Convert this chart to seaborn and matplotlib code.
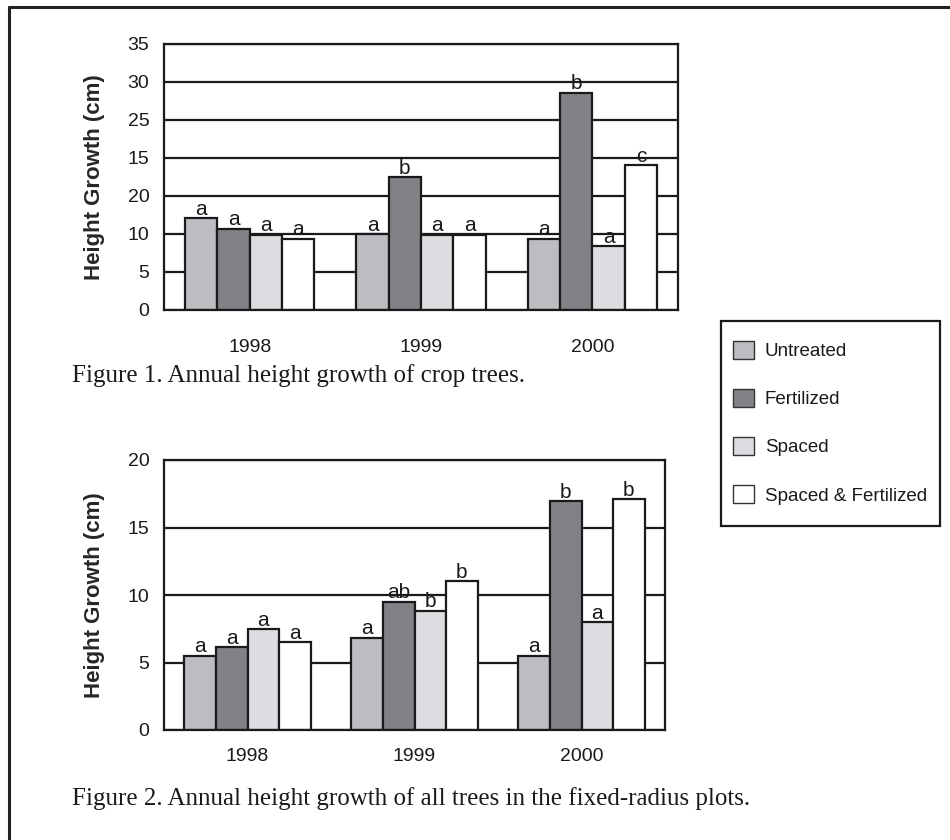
import numpy as np
import pandas as pd
import seaborn as sns
import matplotlib.pyplot as plt
from matplotlib.patches import Patch, Rectangle
from matplotlib.lines import Line2D

years = ['1998', '1999', '2000']
treatments = ['Untreated', 'Fertilized', 'Spaced', 'Spaced & Fertilized']
colors = ['#bcbdc1', '#818286', '#dcdde0', '#ffffff']

# Figure 1 - crop trees (values read against the linear grid)
crop_untreated = [12.1, 10.0, 9.4]
crop_fertilized = [10.7, 17.5, 28.6]
crop_spaced = [9.9, 9.9, 8.4]
crop_spaced_fert = [9.4, 9.9, 19.1]
crop_letters = [['a', 'a', 'a'], ['a', 'b', 'b'], ['a', 'a', 'a'], ['a', 'a', 'c']]
crop_yticks = [0, 5, 10, 15, 20, 25, 30, 35]
crop_yticklabels = ['0', '5', '10', '20', '15', '25', '30', '35']

# Figure 2 - all trees in fixed-radius plots
all_untreated = [5.5, 6.85, 5.5]
all_fertilized = [6.15, 9.5, 16.95]
all_spaced = [7.45, 8.85, 8.0]
all_spaced_fert = [6.5, 11.05, 17.1]
all_letters = [['a', 'a', 'a'], ['a', 'ab', 'b'], ['a', 'b', 'a'], ['a', 'b', 'b']]
all_yticks = [0, 5, 10, 15, 20]
all_yticklabels = ['0', '5', '10', '15', '20']

W, H = 950, 840


def make_df(*series):
    rows = []
    for t, vals in zip(treatments, series):
        for y, v in zip(years, vals):
            rows.append({'year': y, 'treatment': t, 'growth': v})
    return pd.DataFrame(rows)


def draw_panel(ax, df, letters, yticks, yticklabels, label_pad, width_px):
    sns.barplot(data=df, x='year', y='growth', hue='treatment', order=years,
                hue_order=treatments, palette=colors, edgecolor='#1a1a1a',
                linewidth=1.6, width=0.755, gap=0, errorbar=None, legend=False,
                saturation=1, ax=ax)
    for cont, lets in zip(ax.containers, letters):
        for bar, txt in zip(cont, lets):
            ax.annotate(txt, (bar.get_x() + bar.get_width() / 2, bar.get_height()),
                        xytext=(0, -0.5), textcoords='offset points',
                        ha='center', va='bottom', fontsize=15)
    ax.set_xlim(-0.5, 2.5)
    ax.set_ylim(yticks[0], yticks[-1])
    ax.set_yticks(yticks)
    ax.set_yticklabels(yticklabels)
    ax.set_xticks([-0.5, 0.5, 1.5, 2.5])
    ax.set_xticklabels([])
    ax.set_xticks([0, 1, 2], minor=True)
    ax.set_xticklabels(years, minor=True)
    ax.tick_params(axis='x', which='major', direction='out', length=7, width=1.6, color='#1a1a1a')
    ax.tick_params(axis='x', which='minor', length=0, pad=label_pad, labelsize=14)
    ax.tick_params(axis='y', direction='out', length=5, width=1.6, color='#1a1a1a',
                   labelsize=14, pad=5.5)
    ax.set_axisbelow(True)
    ax.yaxis.grid(True, color='#1a1a1a', linewidth=1.6)
    for sp in ax.spines.values():
        sp.set_visible(True)
        sp.set_color('#1a1a1a')
        sp.set_linewidth(1.6)
    ax.set_xlabel('')
    ax.set_ylabel('Height Growth (cm)', fontsize=16, fontweight='bold')
    ax.yaxis.set_label_coords(-59 / width_px, 0.5)


sns.set_style('white')
plt.rcParams['font.family'] = ['Liberation Sans', 'DejaVu Sans']
plt.rcParams['text.color'] = '#1a1a1a'
plt.rcParams['xtick.color'] = '#1a1a1a'
plt.rcParams['ytick.color'] = '#1a1a1a'

fig = plt.figure(figsize=(9.5, 8.4), dpi=100)
ax1 = fig.add_axes([164 / W, 1 - 310 / H, 514 / W, 266 / H])
ax2 = fig.add_axes([164 / W, 1 - 730 / H, 501 / W, 270 / H])

draw_panel(ax1, make_df(crop_untreated, crop_fertilized, crop_spaced, crop_spaced_fert),
           crop_letters, crop_yticks, crop_yticklabels, 21, 514)
draw_panel(ax2, make_df(all_untreated, all_fertilized, all_spaced, all_spaced_fert),
           all_letters, all_yticks, all_yticklabels, 13, 501)

serif = ['Liberation Serif', 'DejaVu Serif']
fig.text(72 / W, 1 - 382 / H, 'Figure 1. Annual height growth of crop trees.',
         family=serif, fontsize=18, va='baseline')
fig.text(72 / W, 1 - 805 / H,
         'Figure 2. Annual height growth of all trees in the fixed-radius plots.',
         family=serif, fontsize=18, va='baseline')

# legend box
fig.add_artist(Rectangle((721 / W, 1 - 526 / H), 219 / W, 205 / H,
                         transform=fig.transFigure, fill=False,
                         edgecolor='#1a1a1a', linewidth=1.6))
handles = [Patch(facecolor=c, edgecolor='#333333', linewidth=1) for c in colors]
fig.legend(handles, treatments, loc='upper left',
           bbox_to_anchor=(733 / W, 1 - 341 / H), frameon=False,
           fontsize=13.5, handlelength=1.1, handleheight=1.1,
           handletextpad=0.6, labelspacing=1.53, borderpad=0, borderaxespad=0)

# page border (left and top)
fig.add_artist(Line2D([9 / W, 9 / W], [0, 1 - 7 / H], transform=fig.transFigure,
                      color='#222222', linewidth=2.2))
fig.add_artist(Line2D([9 / W, 1], [1 - 7 / H, 1 - 7 / H], transform=fig.transFigure,
                      color='#222222', linewidth=2.2))

fig.savefig('out.png', dpi=100, facecolor='white')
